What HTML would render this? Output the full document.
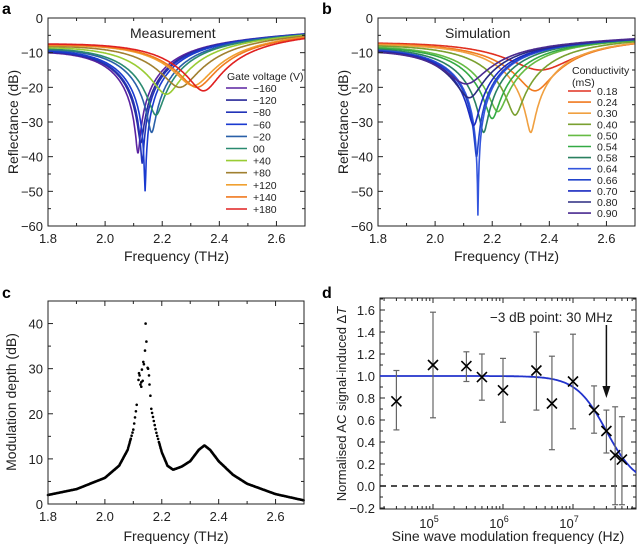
<!DOCTYPE html>
<html><head><meta charset="utf-8"><style>
html,body{margin:0;padding:0;background:#fff}
svg{display:block;font-family:"Liberation Sans",Arial,sans-serif}
</style></head><body>
<svg id="s" width="640" height="548" viewBox="0 0 640 548" xmlns="http://www.w3.org/2000/svg">
<defs>
<clipPath id="ca"><rect x="48" y="18" width="257" height="208"/></clipPath>
<clipPath id="cb"><rect x="378" y="18" width="257" height="208"/></clipPath>
<clipPath id="cd"><rect x="380" y="298" width="256" height="211"/></clipPath>
</defs>
<g id="g"></g>
</svg>
<script>
const NS="http://www.w3.org/2000/svg",G=document.getElementById('g');
function el(t,a,txt,p){const e=document.createElementNS(NS,t);for(const k in a)e.setAttribute(k,a[k]);if(txt!=null)e.textContent=txt;(p||G).appendChild(e);return e;}
function txt(x,y,s,o){o=o||{};return el('text',Object.assign({x:x,y:y,'font-size':12,fill:'#222'},o),s);}
[['a',2,14],['b',322,14],['c',2,298],['d',322,298]].forEach(l=>txt(l[1],l[2],l[0],{'font-size':16,'font-weight':'bold',fill:'#000'}));

function specPanel(X0,X1,Y0,Y1,clip,curves,title,tx){
  const fx=f=>X0+(f-1.8)/0.9*(X1-X0), fy=d=>Y0+(-d)/60*(Y1-Y0);
  const g=el('g',{'clip-path':'url(#'+clip+')'});
  curves.forEach((c,i)=>{
    let p='';
    for(let f=1.8;f<=2.701;f+=0.002){
      const b=c.b0+(c.b1-c.b0)*(f-1.8)/0.9;
      const bf0=c.b0+(c.b1-c.b0)*(c.f0-1.8)/0.9;
      const d=c.g*Math.pow(10,(c.m-bf0)/20),x=f-c.f0;
      const v=b+10*Math.log10((x*x+d*d)/(x*x+c.g*c.g));
      p+=(p?'L':'M')+fx(f).toFixed(1)+','+fy(v).toFixed(1);
    }
    el('path',{d:p,fill:'none',stroke:c.c,'stroke-width':1.6},null,g);
  });
  el('rect',{x:X0,y:Y0,width:X1-X0,height:Y1-Y0,fill:'none',stroke:'#222','stroke-width':1});
  for(let k=0;k<=9;k++){const x=fx(1.8+k*0.1),L=k%2==0?5:3;
    el('line',{x1:x,y1:Y1,x2:x,y2:Y1-L,stroke:'#222'});el('line',{x1:x,y1:Y0,x2:x,y2:Y0+L,stroke:'#222'});}
  for(let k=0;k<=12;k++){const y=fy(-k*5),L=k%2==0?5:3;
    el('line',{x1:X0,y1:y,x2:X0+L,y2:y,stroke:'#222'});el('line',{x1:X1,y1:y,x2:X1-L,y2:y,stroke:'#222'});}
  for(let k=0;k<=4;k++)txt(fx(1.8+k*0.2),Y1+17,(1.8+k*0.2).toFixed(1),{'text-anchor':'middle','font-size':13});
  for(let k=0;k<=6;k++)txt(X0-5,fy(-k*10)+5,k?'\u2212'+k*10:'0',{'text-anchor':'end','font-size':13});
  txt((X0+X1)/2,Y1+35,'Frequency (THz)',{'text-anchor':'middle','font-size':14});
  txt(X0-30,(Y0+Y1)/2,'Reflectance (dB)',{'text-anchor':'middle','font-size':14,transform:'rotate(-90 '+(X0-30)+' '+((Y0+Y1)/2)+')'});
  txt(tx,38,title,{'font-size':14});
}
const A=[
['−160',2.115,-39,'#5a22a0'],['−120',2.125,-36,'#2a2a9a'],['−80',2.13,-42,'#2233b8'],['−60',2.14,-50,'#1a3ad0'],
['−20',2.163,-33,'#2a60a8'],['00',2.178,-28,'#2a8a70'],['+40',2.215,-22,'#99cc33'],['+80',2.262,-20,'#a08030'],
['+120',2.31,-19.5,'#f0a030'],['+140',2.322,-20,'#f07a20'],['+180',2.345,-21,'#e02020']];
specPanel(48,305,18,226,'ca',A.map((a,i)=>({f0:a[1],m:a[2],c:a[3],g:0.22+0.005*i,b0:-8.3+0.17*i,b1:-4})),'Measurement',130);
const B=[
['0.18',2.37,-15,'#e03020'],['0.24',2.35,-21,'#f07a20'],['0.30',2.335,-33,'#f0a040'],['0.40',2.28,-28,'#7aa030'],
['0.50',2.22,-27,'#66bb44'],['0.54',2.2,-29,'#33aa44'],['0.58',2.17,-33,'#2a8060'],['0.64',2.15,-57,'#3355dd'],
['0.66',2.145,-40,'#2244cc'],['0.70',2.135,-31,'#1a2ac0'],['0.80',2.12,-23,'#2a2a80'],['0.90',2.11,-19,'#4a2a90']];
specPanel(378,635,18,226,'cb',B.map((a,i)=>({f0:a[1],m:a[2],c:a[3],g:0.27-0.005*i,b0:-6.5-0.17*i,b1:-5.5})),'Simulation',445);
txt(227,80,'Gate voltage (V)',{'font-size':10.5});
A.forEach((a,i)=>{const y=88+i*12.1;el('line',{x1:226,y1:y,x2:247,y2:y,stroke:a[3],'stroke-width':1.6});txt(253,y+4,a[0],{'font-size':10.5});});
txt(572,74,'Conductivity',{'font-size':10.5});txt(572,86,'(mS)',{'font-size':10.5});
B.forEach((a,i)=>{const y=91+i*11.1;el('line',{x1:568,y1:y,x2:591,y2:y,stroke:a[3],'stroke-width':1.6});txt(597,y+4,a[0],{'font-size':10.5});});

// panel c
(function(){
  const X0=48,X1=304,Y0=301,Y1=504,fx=f=>X0+(f-1.8)/0.9*(X1-X0),fy=d=>Y1-d/45*(Y1-Y0);
  const T=[[1.8,2],[1.9,3.3],[2.0,5.8],[2.05,8.5],[2.08,12],[2.1,16.5],[2.11,21],[2.12,26],[2.13,28],[2.14,30],[2.15,28],[2.16,22],[2.17,19],[2.18,16],[2.2,11.5],[2.22,8.5],[2.24,7.6],[2.27,8.3],[2.3,9.5],[2.33,12],[2.35,13],[2.37,12],[2.4,9.5],[2.45,6.5],[2.5,4.5],[2.6,2.2],[2.7,0.8]];
  function itp(f){for(let i=0;i<T.length-1;i++){if(f<=T[i+1][0]){const t=(f-T[i][0])/(T[i+1][0]-T[i][0]);return T[i][1]+t*(T[i+1][1]-T[i][1]);}}return 0.8;}
  let s='';
  for(let f=1.8;f<=2.7;f+=0.0015){
    if(f>2.115&&f<2.162)continue;
    const step=(f>2.09&&f<2.19)?0.004:0;
    if(step&&Math.round(f/0.0015)%2)continue;
    s+='M'+fx(f).toFixed(1)+','+fy(itp(f)).toFixed(1)+'h0.01';
  }
  [[2.12,29],[2.118,27.5],[2.122,28.5],[2.125,26.5],[2.128,27],[2.13,29.8],[2.135,31.5],[2.137,31],[2.143,40],[2.146,36],[2.141,34],[2.15,30.2],[2.152,30],[2.155,28.5],[2.157,26.5],[2.16,24],[2.128,26],[2.133,27.3]].forEach(p=>{s+='M'+fx(p[0]).toFixed(1)+','+fy(p[1]).toFixed(1)+'h0.01';});
  el('path',{d:s,stroke:'#000','stroke-width':2.6,'stroke-linecap':'round',fill:'none'});
  el('rect',{x:X0,y:Y0,width:X1-X0,height:Y1-Y0,fill:'none',stroke:'#222'});
  for(let k=0;k<=9;k++){const x=fx(1.8+k*0.1),L=k%2==0?5:3;el('line',{x1:x,y1:Y1,x2:x,y2:Y1-L,stroke:'#222'});el('line',{x1:x,y1:Y0,x2:x,y2:Y0+L,stroke:'#222'});}
  for(let k=0;k<=9;k++){const y=fy(k*5),L=k%2==0?5:3;el('line',{x1:X0,y1:y,x2:X0+L,y2:y,stroke:'#222'});el('line',{x1:X1,y1:y,x2:X1-L,y2:y,stroke:'#222'});}
  for(let k=0;k<=4;k++)txt(fx(1.8+k*0.2),Y1+17,(1.8+k*0.2).toFixed(1),{'text-anchor':'middle','font-size':13});
  for(let k=0;k<=4;k++)txt(X0-5,fy(k*10)+5,''+k*10,{'text-anchor':'end','font-size':13});
  txt(176,541,'Frequency (THz)',{'text-anchor':'middle','font-size':14});
  txt(16,402,'Modulation depth (dB)',{'text-anchor':'middle','font-size':14,transform:'rotate(-90 16 402)'});
})();

// panel d
(function(){
  const X0=380,X1=636,Y0=298,Y1=509,lx=f=>433+(Math.log10(f)-5)*70,fy=v=>486-v*110;
  el('rect',{x:X0,y:Y0,width:X1-X0,height:Y1-Y0,fill:'none',stroke:'#222'});
  for(let e=4;e<=7;e++)for(let m=1;m<=9;m++){const x=lx(m*Math.pow(10,e));if(x<X0||x>X1)continue;const L=m==1?5:3;
    el('line',{x1:x,y1:Y1,x2:x,y2:Y1-L,stroke:'#222'});el('line',{x1:x,y1:Y0,x2:x,y2:Y0+L,stroke:'#222'});}
  for(let k=-2;k<=17;k++){const y=fy(k/10);if(y<Y0)continue;const L=k%2==0?5:3;el('line',{x1:X0,y1:y,x2:X0+L,y2:y,stroke:'#222'});el('line',{x1:X1,y1:y,x2:X1-L,y2:y,stroke:'#222'});}
  for(let k=-1;k<=8;k++){const v=k*0.2;txt(X0-5,fy(v)+5,(v<0?'\u2212':'')+Math.abs(v).toFixed(1),{'text-anchor':'end','font-size':13});}
  [5,6,7].forEach(e=>{const t=txt(lx(Math.pow(10,e))-4,Y1+19,'10',{'text-anchor':'middle','font-size':13});el('tspan',{dy:-6,'font-size':9},''+e,t);});
  txt(508,541,'Sine wave modulation frequency (Hz)',{'text-anchor':'middle','font-size':14});
  const t=txt(346,404,'Normalised AC signal-induced \u0394',{'text-anchor':'middle','font-size':13,transform:'rotate(-90 346 404)'});
  el('tspan',{'font-style':'italic'},'T',t);
  el('line',{x1:X0,y1:fy(0),x2:X1,y2:fy(0),stroke:'#111','stroke-width':1.4,'stroke-dasharray':'6,5'});
  let p='';for(let l=4.2;l<=7.95;l+=0.01){const f=Math.pow(10,l),v=1/(1+Math.pow(f/3e7,2));p+=(p?'L':'M')+lx(f).toFixed(1)+','+fy(v).toFixed(1);}
  el('path',{d:p,fill:'none',stroke:'#2233cc','stroke-width':1.8,'clip-path':'url(#cd)'});
  const D=[[3e4,.77,.51,1.05],[1e5,1.1,.62,1.58],[3e5,1.09,.95,1.22],[5e5,.99,.78,1.2],[1e6,.87,.58,1.16],[3e6,1.05,.69,1.4],[5e6,.75,.33,1.18],[1e7,.95,.52,1.38],[2e7,.69,.48,.91],[3e7,.5,.3,.69],[4e7,.28,-.17,.72],[5e7,.24,-.17,.63]];
  D.forEach(d=>{const x=lx(d[0]),y=fy(d[1]);
    el('line',{x1:x,y1:fy(d[2]),x2:x,y2:fy(d[3]),stroke:'#666','stroke-width':1.2});
    el('line',{x1:x-3,y1:fy(d[2]),x2:x+3,y2:fy(d[2]),stroke:'#666','stroke-width':1.2});
    el('line',{x1:x-3,y1:fy(d[3]),x2:x+3,y2:fy(d[3]),stroke:'#666','stroke-width':1.2});
    el('path',{d:`M${x-5},${y-5}L${x+5},${y+5}M${x-5},${y+5}L${x+5},${y-5}`,stroke:'#000','stroke-width':1.6});});
  txt(490,322,'\u22123 dB point: 30 MHz',{'font-size':13.5});
  const ax=lx(3e7);el('line',{x1:ax,y1:325,x2:ax,y2:390,stroke:'#111','stroke-width':1.5});
  el('path',{d:`M${ax-4},${386}L${ax},${398}L${ax+4},${386}Z`,fill:'#111'});
})();
</script>
</body></html>
